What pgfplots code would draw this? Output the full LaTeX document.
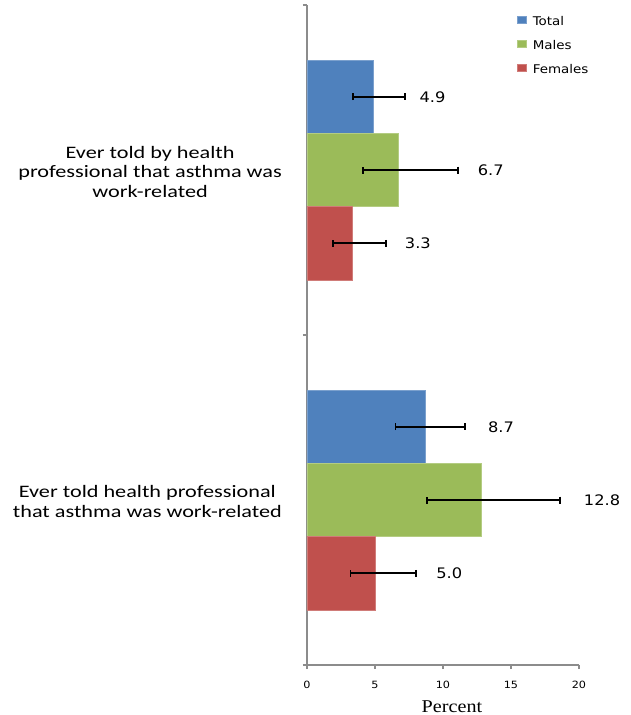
\documentclass[border=0pt]{standalone}
\usepackage{pgfplots}
\pgfplotsset{compat=1.18}
\usepackage{pgfplotstable}
\usepackage{fontspec}
\setmainfont{DejaVu Sans}
\newfontfamily\catfont[FakeStretch=1.27]{Carlito}
\newfontfamily\numfont[FakeStretch=1.12]{DejaVu Sans}
\newfontfamily\labfont[FakeStretch=1.12]{Liberation Serif}
\definecolor{cTotal}{HTML}{4F81BD}
\definecolor{cMales}{HTML}{9BBB59}
\definecolor{cFemales}{HTML}{C0504D}
\definecolor{axgray}{HTML}{8C8C8C}

% y: category position, x: percent, ep/em: error plus/minus
\pgfplotstableread{
y x ep em
0 4.9 2.3 1.5
1 8.7 2.9 2.2
}\tabTotal
\pgfplotstableread{
y x ep em
0 6.7 4.4 2.6
1 12.8 5.8 4.0
}\tabMales
\pgfplotstableread{
y x ep em
0 3.3 2.5 1.4
1 5.0 3.0 1.8
}\tabFemales
% value labels: x position, y position, label
\pgfplotstableread{
lx ly lab
8.27 -0.222 4.9
12.55 0 6.7
7.19 0.222 3.3
13.3 0.778 8.7
20.35 1 12.8
9.5 1.222 5.0
}\tabLabels

\pgfplotsset{
  errstyle/.style={error bars/.cd, x dir=both, x explicit,
    error bar style={black, line width=1.9pt},
    error mark options={black, line width=1.7pt, mark size=3.5pt, rotate=90}},
}

\begin{document}
\begin{tikzpicture}
\useasboundingbox (-307pt,-50pt) rectangle (324pt,665pt);
\begin{axis}[
  at={(0pt,0pt)}, anchor=south west,
  scale only axis, width=272pt, height=660pt,
  clip=false,
  xbar, bar width=0.222,
  xmin=0, xmax=20, ymin=-0.5, ymax=1.5, y dir=reverse,
  axis x line*=bottom, axis y line*=left,
  axis line style={axgray, line width=1.6pt},
  xtick={0,5,10,15,20},
  /pgf/number format/assume math mode=true,
  xticklabel style={font=\numfont\fontsize{10}{12}\selectfont, text=black, yshift=-9pt},
  x tick style={axgray, line width=1.6pt},
  tick align=outside, major tick length=4pt,
  ytick={-0.5,0.5,1.5}, yticklabels={},
  y tick style={axgray, line width=1.6pt},
  extra y ticks={0,1},
  extra y tick labels={{Ever told by health\\professional that asthma was\\work-related},{Ever told health professional\\that asthma was work-related}},
  extra y tick style={major tick length=0pt, yticklabel style={align=center, anchor=east, inner sep=0pt, xshift=-25pt, yshift=-1.5pt, font=\catfont\fontsize{17.5}{19.5}\selectfont}},
  xlabel={Percent},
  xlabel style={font=\labfont\fontsize{18}{20}\selectfont, at={(axis description cs:0.533,0)}, anchor=base, yshift=-47pt},
  legend style={draw=none, fill=none, at={(rel axis cs:0.772,0.983)}, anchor=north west,
    font=\numfont\fontsize{12}{14}\selectfont, row sep=11.5pt, inner sep=0pt,
    nodes={inner sep=0pt, text height=9pt, text depth=3pt},
    /tikz/every odd column/.append style={column sep=6pt}},
  legend cell align=left,
  legend image code/.code={\fill[#1] (0pt,-1pt) rectangle (9pt,6pt);},
]
\addplot[fill=cTotal, draw=cTotal!75!white, line width=0.6pt, bar shift=-0.222, errstyle]
  table[x=x, y=y, x error plus=ep, x error minus=em]{\tabTotal};
\addlegendentry{Total}
\addplot[fill=cMales, draw=cMales!75!white, line width=0.6pt, bar shift=0, errstyle]
  table[x=x, y=y, x error plus=ep, x error minus=em]{\tabMales};
\addlegendentry{Males}
\addplot[fill=cFemales, draw=cFemales!75!white, line width=0.6pt, bar shift=0.222, errstyle]
  table[x=x, y=y, x error plus=ep, x error minus=em]{\tabFemales};
\addlegendentry{Females}
\addplot[forget plot, draw=none, fill=none, bar shift=0, bar width=0.001,
  nodes near coords, point meta=explicit symbolic,
  nodes near coords style={anchor=west, inner sep=0pt, xshift=0pt, font=\numfont\fontsize{14.5}{16}\selectfont}]
  table[x=lx, y=ly, meta=lab]{\tabLabels};
\end{axis}
\end{tikzpicture}
\end{document}
